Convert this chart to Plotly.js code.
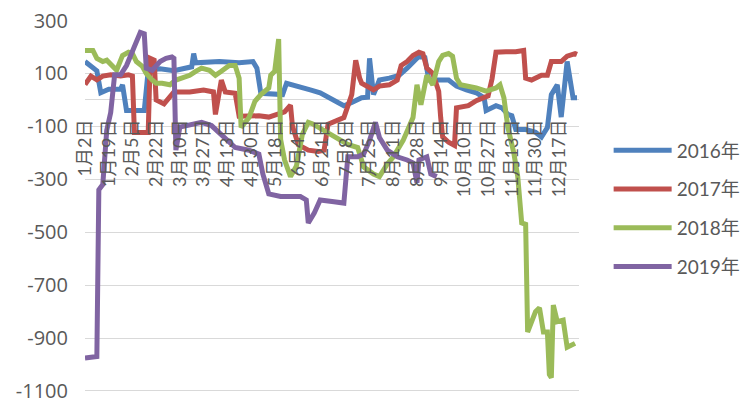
<!DOCTYPE html>
<html>
<head>
<meta charset="utf-8">
<script src="https://cdn.plot.ly/plotly-3.0.1.min.js"></script>
<style>html,body{margin:0;padding:0;background:#fff;}#chart{width:754px;height:405px;}</style>
</head>
<body>
<div id="chart"></div>
<script>
// Category tick labels (every 12th trading day)
const tickIdx = [0,12,24,36,48,60,72,84,96,108,120,132,144,156,168,180,192,204,216,228,240];
const tickLabels = ['1月2日','1月19日','2月5日','2月22日','3月10日','3月27日','4月13日','4月30日','5月18日','6月4日','6月21日','7月8日','7月25日','8月11日','8月28日','9月14日','10月10日','10月27日','11月13日','11月30日','12月17日'];

// 2016
const x2016 = [0,4,6,8,12,18,19,21,30,32,38,45,50,54,55,56,68,78,85,87,89,100,102,108,114,119,124,131,135,140,143,144,146,149,154,159,163,166,169,172,174,184,188,193,198,202,203,208,211,214,216,218,223,228,231,234,236,239,241,244,247,249];
const y2016 = [145,120,110,27,40,40,57,-40,-40,112,118,110,120,125,175,140,145,140,145,120,25,20,63,52,38,27,8,-22,-10,8,10,157,20,75,82,93,120,145,165,160,75,75,52,38,27,8,-40,-22,-30,-55,-60,-112,-112,-122,-140,-105,20,57,-65,145,8,8];

// 2017
const x2017 = [0,3,6,9,13,18,22,24,25,32,33,35,36,40,45,53,60,65,66,69,71,76,78,88,93,98,101,104,105,108,113,118,121,123,128,131,135,137,139,140,146,149,154,158,160,163,166,169,171,173,176,179,180,181,184,187,188,194,198,201,204,206,208,213,218,222,223,226,231,234,236,241,244,248,249];
const y2017 = [58,90,76,90,95,90,95,90,-123,-123,157,150,0,-15,30,30,37,30,-55,75,30,25,-62,-60,-65,-50,-45,-20,-100,-170,-190,-195,-190,-92,-75,-67,20,150,82,63,38,52,57,75,130,145,168,180,175,120,100,33,-67,-140,-160,-172,-30,-22,-3,8,15,80,180,182,182,187,82,75,93,93,145,145,165,175,172];

// 2018
const x2018 = [0,4,6,9,11,14,16,19,22,24,26,29,31,34,36,39,43,46,49,53,56,59,63,66,69,73,76,78,79,83,86,89,93,94,96,98,99,101,104,107,110,113,115,118,123,128,133,138,141,146,149,153,156,161,164,166,168,170,173,176,179,181,184,186,188,190,198,203,208,210,212,214,217,219,221,223,224,228,230,232,234,235,236,237,239,242,244,246,248];
const y2018 = [187,187,157,145,150,127,112,168,180,175,145,127,100,75,63,63,57,75,82,93,108,120,112,93,108,130,130,82,-104,-67,-5,20,45,93,108,230,-150,-227,-290,-250,-130,-85,-90,-103,-130,-150,-168,-180,-253,-280,-290,-242,-216,-153,-104,-67,57,-18,93,57,145,168,175,165,82,57,45,33,45,57,8,-104,-200,-290,-465,-470,-877,-800,-786,-877,-877,-1038,-1050,-775,-838,-832,-935,-925,-920];

// 2019
const x2019 = [0,6,7,9,11,13,15,18,21,24,28,30,31,34,38,41,44,45,46,48,59,64,69,76,83,88,90,93,99,109,112,113,116,119,126,131,133,138,141,144,147,149,153,158,163,166,168,169,173,175,178];
const y2019 = [-975,-970,-340,-320,-115,-48,95,95,130,180,255,250,120,112,145,157,162,157,-190,-103,-85,-97,-130,-180,-190,-205,-280,-355,-365,-365,-378,-465,-428,-378,-385,-390,-215,-215,-205,-153,-85,-142,-190,-215,-227,-238,-313,-227,-215,-280,-290];

const seriesNames = ['2016年','2017年','2018年','2019年'];
const colors = ['#4F81BD','#C0504D','#9BBB59','#8064A2'];
const xs = [x2016,x2017,x2018,x2019];
const ys = [y2016,y2017,y2018,y2019];

const traces = seriesNames.map((n,i)=>({
  type:'scatter', mode:'lines', name:n, x:xs[i], y:ys[i],
  line:{color:colors[i], width:5}, legendgroup:n
}));

const font = 'Lato, "Noto Sans CJK SC", sans-serif';
const layout = {
  width:754, height:405,
  margin:{l:85, r:171, t:20, b:8},
  paper_bgcolor:'#fff', plot_bgcolor:'#fff',
  font:{family:font, color:'#595959'},
  showlegend:true,
  legend:{x:1.06, y:0.5, xanchor:'left', yanchor:'middle', itemwidth:58,
          font:{size:19, color:'#595959'}, tracegroupgap:11, bgcolor:'rgba(0,0,0,0)'},
  xaxis:{
    range:[0,250], tickmode:'array', tickvals:tickIdx, ticktext:tickLabels,
    tickangle:-90, tickfont:{size:18, color:'#595959'},
    showgrid:false, zeroline:false, showline:false, ticks:'',
    anchor:'free', position:0.748
  },
  yaxis:{
    range:[-1122.7,301.9], tickmode:'array', tickvals:[-1100,-900,-700,-500,-300,-100,100,300],
    ticktext:['-1100','-900','-700','-500','-300','-100','100','300'],
    tickfont:{size:20, color:'#595959', family:'"Open Sans", sans-serif'},
    ticklabelstandoff:16, ticklabeloverflow:'allow',
    showgrid:true, gridcolor:'#d9d9d9', gridwidth:1,
    zeroline:true, zerolinecolor:'#d9d9d9', zerolinewidth:1,
    showline:false, ticks:''
  }
};
Plotly.newPlot('chart', traces, layout, {displayModeBar:false, staticPlot:true});
</script>
</body>
</html>
